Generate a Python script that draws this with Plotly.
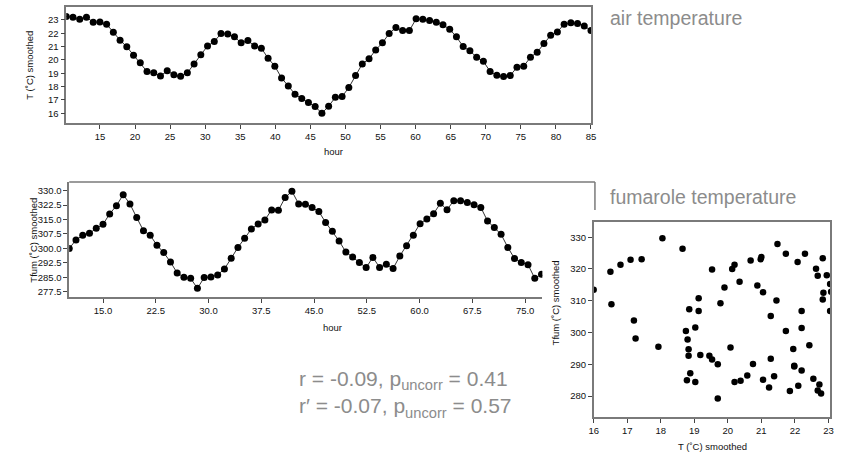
import plotly.graph_objects as go

# ---------------- data ----------------
hours = [10.20, 11.16, 12.12, 13.08, 14.04, 15.00, 15.95, 16.91, 17.87, 18.83,
         19.79, 20.75, 21.71, 22.67, 23.63, 24.59, 25.54, 26.50, 27.46, 28.42,
         29.38, 30.34, 31.30, 32.26, 33.22, 34.18, 35.13, 36.09, 37.05, 38.01,
         38.97, 39.93, 40.89, 41.85, 42.81, 43.77, 44.72, 45.68, 46.64, 47.60,
         48.56, 49.52, 50.48, 51.44, 52.40, 53.36, 54.31, 55.27, 56.23, 57.19,
         58.15, 59.11, 60.07, 61.03, 61.99, 62.95, 63.90, 64.86, 65.82, 66.78,
         67.74, 68.70, 69.66, 70.62, 71.58, 72.54, 73.49, 74.45, 75.41, 76.37,
         77.33, 78.29, 79.25, 80.21, 81.17, 82.13, 83.08, 84.04, 85.00]

t_air = [23.25, 23.20, 23.05, 23.20, 22.83, 22.85, 22.68, 22.08, 21.48, 20.98,
         20.35, 19.78, 19.13, 19.03, 18.80, 19.18, 18.88, 18.78, 19.03, 19.70,
         20.38, 21.05, 21.38, 21.98, 21.95, 21.73, 21.28, 21.45, 21.05, 20.88,
         20.13, 19.53, 18.65, 18.05, 17.43, 17.10, 16.80, 16.50, 16.00, 16.53,
         17.20, 17.25, 17.93, 18.83, 19.70, 20.08, 20.75, 21.28, 21.98, 22.43,
         22.20, 22.20, 23.08, 23.05, 22.95, 22.83, 22.63, 22.30, 21.73, 21.00,
         20.68, 20.20, 19.90, 19.13, 18.85, 18.75, 18.83, 19.45, 19.53, 20.20,
         20.58, 21.23, 21.85, 22.10, 22.68, 22.78, 22.73, 22.55, 22.20]

t_fum = [299.9, 304.4, 306.8, 307.8, 310.4, 312.5, 317.9, 322.2, 327.9, 323.1,
         316.0, 309.2, 306.8, 301.6, 297.8, 292.9, 287.2, 285.0, 284.4, 279.2,
         284.8, 285.1, 286.2, 289.3, 294.8, 300.5, 305.2, 310.1, 312.7, 314.8,
         320.0, 319.8, 326.4, 329.7, 323.1, 322.9, 321.3, 319.1, 313.5, 308.9,
         303.8, 298.1, 295.5, 292.7, 290.0, 295.3, 290.1, 291.7, 289.5, 296.0,
         301.4, 306.8, 312.8, 315.3, 318.0, 323.4, 320.1, 324.8, 324.8, 323.8,
         322.7, 321.3, 314.2, 310.8, 307.3, 300.5, 294.7, 292.7, 291.5, 284.4,
         286.5, 282.7, 281.6, 283.2, 281.7, 280.8, 283.6, 285.4, 288.0]

air_label = "air temperature"
fum_label = "fumarole temperature"
stats_text = ("r = -0.09, p<sub>uncorr</sub> = 0.41<br>"
              "r\u2032 = -0.07, p<sub>uncorr</sub> = 0.57")

# ---------------- layout helpers ----------------
W, H = 846, 453
def px(x):
    return x / W
def py(y):
    return 1 - y / H

FONT = "Liberation Sans, Arial, sans-serif"
FRAME = "#7a7a7a"
TICKC = "#444444"
LABEL_GRAY = "#8c8c8c"

fig = go.Figure()

line_style = dict(color="#333333", width=1)
marker_style = dict(color="black", size=7)

fig.add_trace(go.Scatter(x=hours, y=t_air, mode="lines+markers",
                         line=line_style, marker=marker_style,
                         xaxis="x", yaxis="y", showlegend=False))
fig.add_trace(go.Scatter(x=hours, y=t_fum, mode="lines+markers",
                         line=line_style, marker=marker_style,
                         xaxis="x2", yaxis="y2", showlegend=False))
fig.add_trace(go.Scatter(x=t_air, y=t_fum, mode="markers",
                         marker=dict(color="black", size=6.5),
                         xaxis="x3", yaxis="y3", showlegend=False))

tickfont = dict(family=FONT, size=9.5, color="#111111")
common_axis = dict(showgrid=False, zeroline=False, ticks="outside",
                   ticklen=4, tickwidth=1, tickcolor=TICKC,
                   tickfont=tickfont, showline=True, linecolor=FRAME,
                   linewidth=1.5)

fig.update_layout(
    width=W, height=H, autosize=False,
    margin=dict(l=0, r=0, t=0, b=0),
    paper_bgcolor="white", plot_bgcolor="white",
    xaxis=dict(domain=[px(62), px(593)], range=[10.2, 85.0],
               tickmode="linear", tick0=0, dtick=5, mirror=True,
               anchor="y", **common_axis),
    yaxis=dict(domain=[py(123), py(7)], range=[15.27, 23.97],
               tickmode="linear", tick0=0, dtick=1, mirror=True,
               anchor="x", **common_axis),
    xaxis2=dict(domain=[px(65), px(543.8)], range=[10.2, 77.45],
                tickmode="linear", tick0=0, dtick=7.5, tickformat=".1f",
                mirror=False, anchor="y2", **common_axis),
    yaxis2=dict(domain=[py(297), py(182)], range=[274.7, 334.5],
                tickmode="linear", tick0=0, dtick=7.5, tickformat=".1f",
                mirror=False, anchor="x2", **common_axis),
    xaxis3=dict(domain=[px(595.7), px(835)], range=[16, 23.05],
                tickmode="linear", tick0=0, dtick=1, mirror=True,
                anchor="y3", **common_axis),
    yaxis3=dict(domain=[py(417.3), py(222.3)], range=[273.3, 334.7],
                tickmode="linear", tick0=0, dtick=10, mirror=True,
                anchor="x3", **common_axis),
)

# frame pieces of the fumarole panel that peek out above the scatter inset
fig.add_shape(type="line", xref="paper", yref="paper",
              x0=px(65), x1=px(597), y0=py(182), y1=py(182),
              line=dict(color=FRAME, width=1.5))
fig.add_shape(type="line", xref="paper", yref="paper",
              x0=px(597), x1=px(597), y0=py(182), y1=py(210),
              line=dict(color=FRAME, width=1.5))

title_font = dict(family=FONT, size=9.5, color="#111111")
ann = []
ann.append(dict(text="T (\u02daC) smoothed", x=px(24), y=py(65), textangle=-90,
                font=title_font))
ann.append(dict(text="hour", x=px(332), y=py(152), font=title_font))
ann.append(dict(text="Tfum (\u02daC) smoothed", x=px(28), y=py(240), textangle=-90,
                font=title_font))
ann.append(dict(text="hour", x=px(331), y=py(327), font=title_font))
ann.append(dict(text="Tfum (\u02daC) smoothed", x=px(557), y=py(303), textangle=-90,
                font=title_font))
ann.append(dict(text="T (\u02daC) smoothed", x=px(716), y=py(446), font=title_font))
ann.append(dict(text=air_label, x=px(610), y=py(18), xanchor="left",
                font=dict(family=FONT, size=19.5, color=LABEL_GRAY)))
ann.append(dict(text=fum_label, x=px(610), y=py(197), xanchor="left",
                font=dict(family=FONT, size=19.5, color=LABEL_GRAY)))
ann.append(dict(text=stats_text, x=px(295), y=py(394), xanchor="left",
                align="left",
                font=dict(family=FONT, size=21, color=LABEL_GRAY)))

for a in ann:
    a.setdefault("xanchor", "center")
    a.setdefault("yanchor", "middle")
    a.update(xref="paper", yref="paper", showarrow=False)
fig.update_layout(annotations=ann)

fig.write_html("out.html",
               config={"displayModeBar": False},
               post_script="document.body.style.margin='0';"
                           "document.body.style.overflow='hidden';")
